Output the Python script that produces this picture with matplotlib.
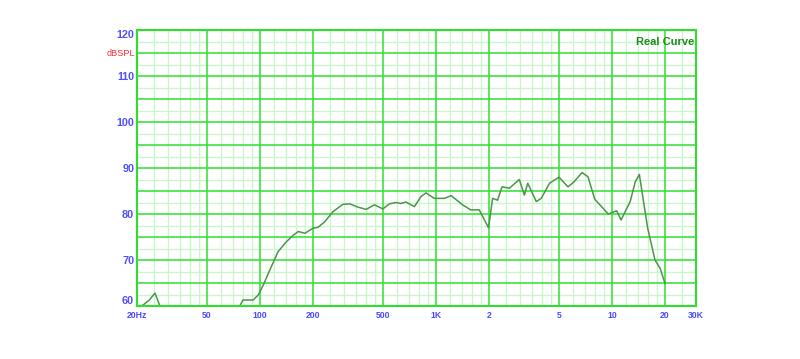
import matplotlib
matplotlib.use("Agg")
import matplotlib.pyplot as plt
import matplotlib.transforms as mtransforms

# ---- data ----
freq_hz = [21.3, 23.5, 25.3, 27.0, 76.7, 80, 91.5, 97.7, 104.5, 113.6, 126.6, 141.4,
           154.7, 165, 179.6, 199.9, 213.4, 233, 259.5, 295.6, 323.1, 360, 400.8,
           447, 498.7, 543, 592, 632, 675, 753, 822, 878, 916, 978, 1116, 1218,
           1414, 1575, 1760, 1988, 2096, 2237, 2370, 2610, 2975, 3175, 3320, 3710,
           3960, 4420, 5000, 5620, 6050, 6750, 7300, 7980, 8720, 9520, 10630,
           11250, 12680, 13550, 14300, 15000, 15950, 17540, 18760, 20000]
spl_db = [60.0, 61.3, 62.8, 60.0, 60.0, 61.3, 61.3, 62.4, 64.6, 67.8, 71.8, 74.0,
          75.4, 76.2, 75.8, 76.9, 77.1, 78.3, 80.5, 82.1, 82.2, 81.5, 81.0,
          82.0, 81.1, 82.2, 82.5, 82.3, 82.6, 81.6, 83.8, 84.6, 84.1, 83.4, 83.4, 84.0,
          82.0, 80.9, 80.9, 77.0, 83.4, 83.0, 85.9, 85.6, 87.5, 84.1, 86.7, 82.7,
          83.4, 86.7, 88.0, 85.9, 86.9, 89.0, 88.1, 83.2, 81.6, 80.0, 80.7,
          78.7, 82.7, 87.0, 88.6, 83.4, 76.9, 70.0, 68.2, 64.9]

x_ticks = [20, 50, 100, 200, 500, 1000, 2000, 5000, 10000, 20000, 30000]
x_labels = ["20Hz", "50", "100", "200", "500", "1K", "2", "5", "10", "20", "30K"]
y_ticks = [60, 70, 80, 90, 100, 110, 120]
y_labels = ["60", "70", "80", "90", "100", "110", "120"]
y_unit = "dBSPL"
title_text = "Real Curve"

# grid layout values
major_x = [50, 100, 200, 500, 1000, 2000, 5000, 10000, 20000]
minor_mult = [1.2, 1.4, 1.6, 1.8, 2.5, 3, 3.5, 4, 4.5, 6, 7, 8, 9]

W, H = 800, 359
fig = plt.figure(figsize=(W / 100, H / 100), dpi=100)
L, R, T, B = 137, 696, 30, 306
ax = fig.add_axes([L / W, (H - B) / H, (R - L) / W, (B - T) / H])
ax.set_xscale("log")
ax.set_xlim(20, 30000)
ax.set_ylim(60, 120)

major_col = "#2ee02e"
minor_col = "#cdf5cd"

# minor vertical grid
for dec in [10, 100, 1000, 10000]:
    for m in minor_mult:
        f = m * dec
        if 20 < f < 30000 and f not in major_x:
            ax.axvline(f, color=minor_col, lw=1.0, zorder=0.5)
# minor horizontal grid
for v in [60 + 2.5 * i for i in range(1, 24, 2)]:
    ax.axhline(v, color=minor_col, lw=1.0, zorder=0.5)
# major grid
for f in major_x:
    ax.axvline(f, color=major_col, lw=1.1, zorder=1)
for v in range(65, 120, 5):
    ax.axhline(v, color=major_col, lw=1.1, zorder=1)

ax.plot(freq_hz, spl_db, color="#4a964a", lw=1.1, zorder=2)

for s in ax.spines.values():
    s.set_color(major_col)
    s.set_linewidth(1.5)

ax.minorticks_off()
ax.set_xticks(x_ticks)
ax.set_xticklabels(x_labels)
ax.set_yticks(y_ticks)
ax.set_yticklabels(y_labels)
ax.tick_params(axis="both", length=0)
ax.tick_params(axis="x", pad=3.5)
ax.tick_params(axis="y", pad=2)
for lab in ax.get_xticklabels():
    lab.set_fontfamily("Liberation Sans")
    lab.set_fontsize(6.2)
    lab.set_fontweight("bold")
    lab.set_color("#4a4aff")
for lab in ax.get_yticklabels():
    lab.set_fontfamily("Liberation Sans")
    lab.set_fontsize(7.8)
    lab.set_fontweight("bold")
    lab.set_color("#5050ff")
ylabs = ax.get_yticklabels()
ylabs[0].set_verticalalignment("bottom")
ylabs[-1].set_verticalalignment("top")

trans = mtransforms.blended_transform_factory(ax.transAxes, ax.transData)
ax.text(-0.004, 115, y_unit, transform=trans, ha="right", va="center",
        fontsize=6.6, color="#ff3030", family="Liberation Sans")
ax.text(0.996, 0.975, title_text, transform=ax.transAxes, ha="right", va="top",
        fontsize=8, fontweight="bold", color="#1f8a1f", family="Liberation Sans")

fig.savefig("out.png", dpi=100)
